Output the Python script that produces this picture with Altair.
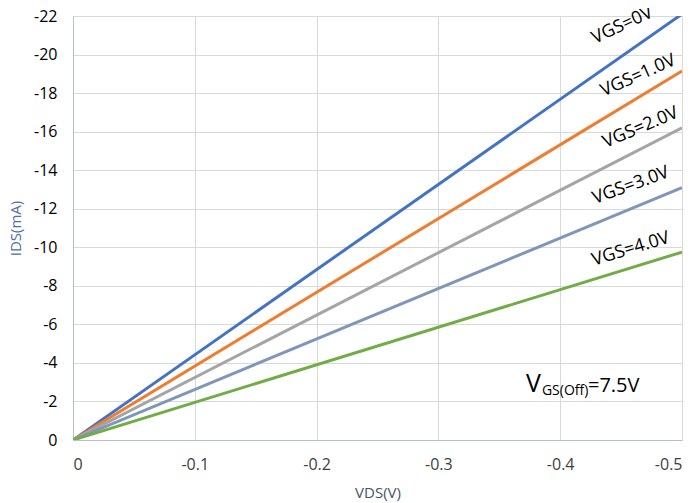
import altair as alt
import pandas as pd

series = ["VGS=0V", "VGS=1.0V", "VGS=2.0V", "VGS=3.0V", "VGS=4.0V"]
end_vds = [-0.5, -0.5, -0.5, -0.5, -0.5]
end_ids = [-22.1, -19.15, -16.2, -13.1, -9.75]
colors = ["#4472C4", "#ED7D31", "#A5A5A5", "#7F96B8", "#70AD47"]

label_x = [-0.451, -0.464, -0.466, -0.458, -0.458]
label_y = [-21.5, -18.9, -16.2, -13.2, -9.9]
label_angle = [335, 336, 337, 340, 343]

x_ticks = [0, -0.1, -0.2, -0.3, -0.4, -0.5]
y_ticks = [0, -2, -4, -6, -8, -10, -12, -14, -16, -18, -20, -22]

ann_text = ["V", "GS(Off)", "=7.5V"]
ann_x = [-0.3719, -0.385, -0.4228]
ann_y = [-2.49, -2.34, -2.49]
ann_size = [25, 14, 20]

rows = []
for s, xe, ye in zip(series, end_vds, end_ids):
    rows.append({"series": s, "vds": 0.0, "ids": 0.0})
    rows.append({"series": s, "vds": xe, "ids": ye})
df = pd.DataFrame(rows)

FONT = "Open Sans"

xs = alt.Scale(domain=[-0.5, 0], reverse=True, nice=False)
ys = alt.Scale(domain=[-22, 0], reverse=True, nice=False)

x_axis = alt.Axis(values=x_ticks, title="VDS(V)", labelExpr="'' + datum.value",
                  grid=True, gridColor="#D9D9D9", ticks=False, labelOverlap=False,
                  domainColor="#B4C0D4", labelColor="#404040", labelFontSize=16,
                  labelFont=FONT, labelPadding=16, titleFont=FONT, titleFontSize=15,
                  titleFontWeight="normal", titleColor="#44546A", titlePadding=13)
y_axis = alt.Axis(values=y_ticks, title="IDS(mA)", labelExpr="'' + datum.value",
                  grid=True, gridColor="#D9D9D9", ticks=False, labelOverlap=False,
                  domainColor="#B4C0D4", labelColor="#000000", labelFontSize=16,
                  labelFont=FONT, labelPadding=16, titleFont=FONT, titleFontSize=15,
                  titleFontWeight="normal", titleColor="#4F6FA8", titlePadding=10)

lines = alt.Chart(df).mark_line(strokeWidth=3, clip=True).encode(
    x=alt.X("vds:Q", scale=xs, axis=x_axis),
    y=alt.Y("ids:Q", scale=ys, axis=y_axis),
    color=alt.Color("series:N", scale=alt.Scale(domain=series, range=colors), legend=None),
)

layers = [lines]
for s, lx, ly, ang in zip(series, label_x, label_y, label_angle):
    ldf = pd.DataFrame({"vds": [lx], "ids": [ly], "t": [s]})
    layers.append(alt.Chart(ldf).mark_text(font=FONT, fontSize=18, angle=ang, color="#000000",
                                           align="center", baseline="middle").encode(
        x=alt.X("vds:Q", scale=xs, axis=x_axis), y=alt.Y("ids:Q", scale=ys, axis=y_axis), text="t:N"))

for t, ax, ay, fs in zip(ann_text, ann_x, ann_y, ann_size):
    adf = pd.DataFrame({"vds": [ax], "ids": [ay], "t": [t]})
    layers.append(alt.Chart(adf).mark_text(font=FONT, fontSize=fs, color="#000000",
                                           align="left", baseline="alphabetic").encode(
        x=alt.X("vds:Q", scale=xs, axis=x_axis), y=alt.Y("ids:Q", scale=ys, axis=y_axis), text="t:N"))

chart = alt.layer(*layers).properties(
    width=609, height=424,
    autosize=alt.AutoSizeParams(type="none"),
    padding={"left": 65, "top": 8, "right": 10, "bottom": 62},
).configure_view(stroke=None).configure_axis(labelOverlap=False).configure(background="white")

chart.save("out.html", embed_options={"renderer": "svg", "actions": False})
